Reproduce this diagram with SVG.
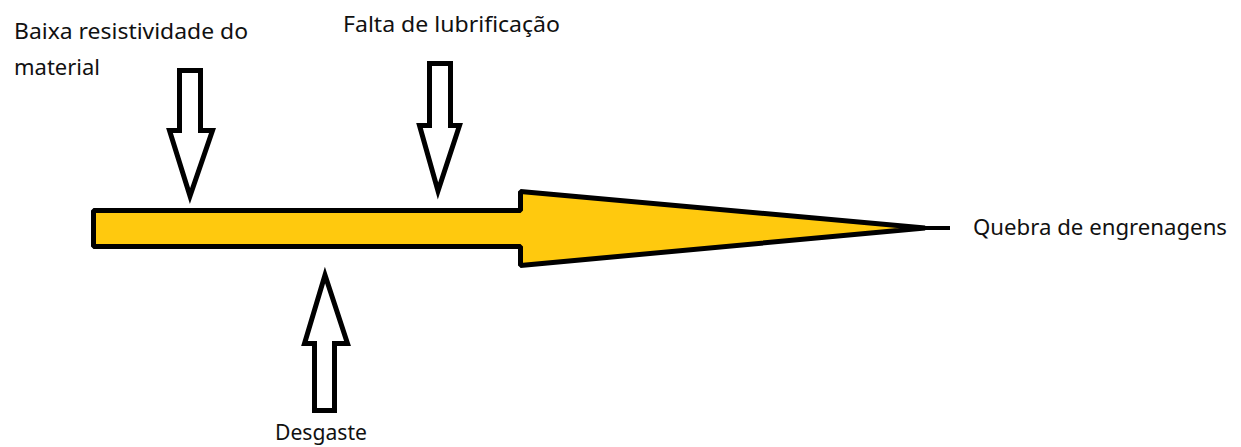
<svg xmlns="http://www.w3.org/2000/svg" width="1241" height="447" viewBox="0 0 1241 447">
  <style>
    .lbl { font-family: "Noto Sans", "Open Sans", "Liberation Sans", sans-serif; font-size: 22px; fill: #111; }
    .hollow { fill: #ffffff; stroke: #000; stroke-width: 5; stroke-linejoin: miter; }
    .main { fill: #FFC90E; stroke: #000; stroke-width: 5; stroke-linejoin: bevel; }
  </style>
  <rect width="1241" height="447" fill="#ffffff"/>

  <g id="main-arrow">
    <path class="main" d="M93.5,210.5 H520.5 V191.5 L925,228 L520.5,265.5 V246.5 H93.5 Z"/>
    <line x1="900" y1="228" x2="950" y2="228" stroke="#000" stroke-width="4"/>
  </g>

  <g id="connectors">
    <path id="arrow-baixa" class="hollow" d="M179.5,70.5 H200.5 V130.5 H212.5 L190,196 L169.5,130.5 H179.5 Z"/>
    <path id="arrow-falta" class="hollow" d="M429.5,63.5 H450.5 V125.5 H459.5 L438,191 L419.5,125.5 H429.5 Z"/>
    <path id="arrow-desgaste" class="hollow" d="M314.5,410.5 H334.5 V343.5 H347.5 L325,275 L304.5,343.5 H314.5 Z"/>
  </g>

  <g id="node-baixa">
    <text class="lbl" x="14" y="39" textLength="234" lengthAdjust="spacingAndGlyphs">Baixa resistividade do</text>
    <text class="lbl" x="14" y="75" textLength="86" lengthAdjust="spacingAndGlyphs">material</text>
  </g>
  <g id="node-falta">
    <text class="lbl" x="343" y="32" textLength="217" lengthAdjust="spacingAndGlyphs">Falta de lubrificação</text>
  </g>
  <g id="node-quebra">
    <text class="lbl" x="973" y="235" textLength="254" lengthAdjust="spacingAndGlyphs">Quebra de engrenagens</text>
  </g>
  <g id="node-desgaste">
    <text class="lbl" x="275" y="440" textLength="92" lengthAdjust="spacingAndGlyphs">Desgaste</text>
  </g>
</svg>
